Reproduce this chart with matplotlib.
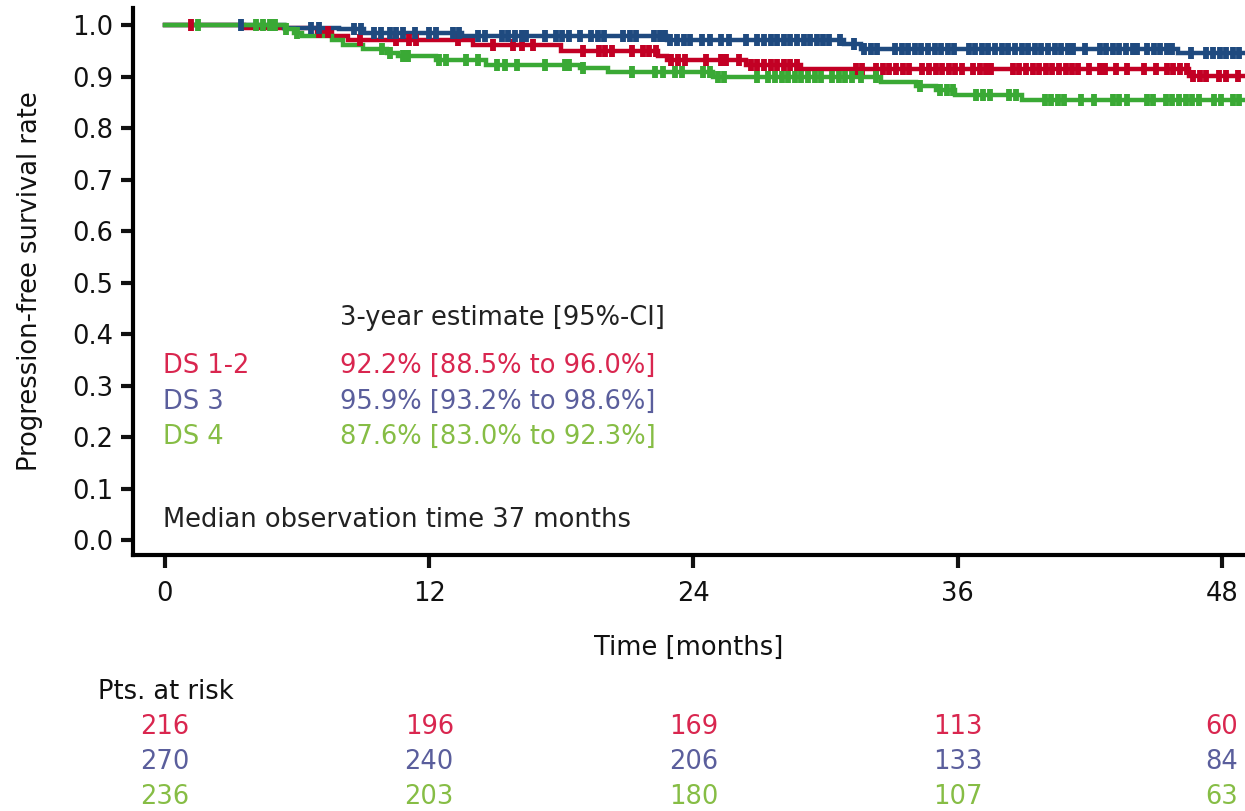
import numpy as np
import matplotlib.pyplot as plt
from matplotlib.transforms import blended_transform_factory

# step curves: time (months) of each drop and survival after it
red_t = [0, 3.6, 6.9, 7.6, 8.3, 14.0, 18.0, 22.4, 22.8, 26.4, 28.9, 46.5, 49.1]
red_s = [1.0, 0.995, 0.988, 0.979, 0.971, 0.963, 0.951, 0.940, 0.932, 0.924, 0.916, 0.902, 0.902]

blue_t = [0, 5.4, 7.9, 9.05, 13.5, 22.8, 30.85, 31.6, 46.0, 49.1]
blue_s = [1.0, 0.996, 0.993, 0.986, 0.979, 0.971, 0.965, 0.955, 0.947, 0.947]

green_t = [0, 5.45, 5.85, 6.2, 7.6, 8.1, 9.0, 10.1, 10.6, 12.3, 14.6, 18.85, 20.1,
           24.9, 32.5, 34.1, 35.0, 35.9, 38.9, 49.1]
green_s = [1.0, 0.993, 0.986, 0.979, 0.971, 0.963, 0.955, 0.947, 0.940, 0.932, 0.924,
           0.917, 0.909, 0.900, 0.890, 0.883, 0.874, 0.864, 0.855, 0.855]

# censoring marks (months)
red_cens = [1.2, 7.0, 7.4, 8.85, 10.5, 11.1, 11.4, 13.3, 14.9, 15.8, 16.2, 16.7, 19.0,
            19.7, 20.0, 20.3, 21.2, 21.7, 22.0, 22.3, 23.0, 23.3, 23.6, 24.55, 25.25,
            25.5, 26.05, 26.6, 26.9, 27.2, 27.5, 27.8, 28.1, 28.4, 28.7, 31.4, 31.65,
            32.3, 32.6, 32.9, 33.2, 33.5, 33.8, 34.4, 34.7, 35.0, 35.3, 35.6, 35.9,
            36.2, 36.7, 37.0, 37.3, 37.5, 38.5, 38.8, 39.1, 39.4, 39.7, 40.0, 40.3,
            40.6, 40.9, 41.2, 41.45, 41.95, 42.45, 42.7, 43.2, 43.7, 44.45, 45.0, 45.5,
            45.8, 46.1, 46.4, 46.7, 47.0, 47.3, 47.85, 48.2, 48.75]
blue_cens = [3.45, 6.65, 7.0, 8.6, 8.9, 9.5, 9.8, 10.2, 10.5, 10.8, 11.35, 12.0, 12.3,
             13.1, 13.35, 14.2, 14.55, 15.3, 15.6, 15.9, 16.2, 16.4, 17.25, 17.75, 18.05,
             18.35, 18.85, 19.35, 19.65, 19.95, 20.8, 21.1, 21.4, 22.2, 22.5, 22.7,
             22.95, 23.25, 23.55, 23.85, 24.4, 24.75, 25.25, 25.6, 26.4, 26.9, 27.2,
             27.5, 27.8, 28.1, 28.4, 28.7, 29.0, 29.3, 29.6, 29.9, 30.15, 30.65, 31.3,
             31.75, 32.05, 32.35, 33.15, 33.45, 33.75, 34.05, 34.35, 34.65, 34.95,
             35.25, 35.55, 35.85, 36.5, 36.8, 37.1, 37.4, 37.7, 38.0, 38.3, 38.6, 38.9,
             39.2, 39.5, 39.8, 40.1, 40.4, 40.7, 41.0, 41.25, 41.8, 42.45, 42.75, 43.05,
             43.35, 43.65, 43.95, 44.15, 44.6, 44.9, 45.2, 45.5, 45.75, 46.6, 47.3,
             47.6, 47.9, 48.2, 48.5, 48.8]
green_cens = [1.5, 4.15, 4.45, 4.75, 5.0, 5.5, 6.0, 9.85, 10.2, 10.8, 11.05, 12.45, 12.75,
              13.65, 14.2, 15.1, 15.45, 16.0, 17.25, 18.15, 18.35, 19.0, 21.2, 22.25,
              22.6, 23.15, 23.5, 24.45, 24.75, 25.1, 25.4, 26.9, 27.4, 27.7, 28.0, 28.3,
              28.6, 28.9, 29.2, 29.5, 29.8, 30.3, 30.6, 30.9, 31.2, 31.6, 32.3, 34.3,
              35.2, 35.5, 35.8, 36.85, 37.15, 37.45, 38.35, 38.65, 39.95, 40.25, 40.55,
              40.85, 41.6, 42.2, 43.05, 43.35, 43.7, 44.6, 44.85, 45.45, 45.75, 46.05,
              46.35, 46.65, 46.95, 47.65, 47.95, 48.5, 48.8]

groups = ['DS 1-2', 'DS 3', 'DS 4']
estimates = ['92.2% [88.5% to 96.0%]', '95.9% [93.2% to 98.6%]', '87.6% [83.0% to 92.3%]']
risk_times = [0, 12, 24, 36, 48]
risk_red = [216, 196, 169, 113, 60]
risk_blue = [270, 240, 206, 133, 84]
risk_green = [236, 203, 180, 107, 63]

RED, BLUE, GREEN = '#C20024', '#1F4A7F', '#3AA935'
RED_TXT, BLUE_TXT, GREEN_TXT = '#D9264F', '#5A5E9C', '#86BD45'
FS = 18.5


def surv_at(times, surv, c):
    idx = np.searchsorted(times, c, side='right') - 1
    return np.asarray(surv)[idx]


fig = plt.figure(figsize=(12.45, 8.11), dpi=100)
ax = fig.add_axes([133 / 1245, 1 - 555 / 811, 1112 / 1245, 547 / 811])

curves = [(red_t, red_s, red_cens, RED), (blue_t, blue_s, blue_cens, BLUE),
          (green_t, green_s, green_cens, GREEN)]
for t, s, c, col in curves:
    ax.step(t, s, where='post', color=col, lw=3.2, solid_joinstyle='miter')
for t, s, c, col in curves:
    ax.plot(c, surv_at(t, s, c), ls='none', marker='|', color=col, ms=8, mew=4.2)

ax.set_xlim(-1.453, 49.05)
ax.set_ylim(-0.029, 1.034)
ax.set_xticks(risk_times)
ax.set_yticks(np.round(np.arange(0, 1.01, 0.1), 1))
ax.set_yticklabels([f'{v:.1f}' for v in np.arange(0, 1.01, 0.1)])
for side in ['top', 'right']:
    ax.spines[side].set_visible(False)
for side in ['left', 'bottom']:
    ax.spines[side].set_linewidth(3)
ax.tick_params(axis='both', direction='out', length=9, width=3, labelsize=FS,
               colors='#111111')
ax.tick_params(axis='y', pad=5)
ax.tick_params(axis='x', pad=10)

ax.set_xlabel('Time [months]', fontsize=FS, color='#111111')
ax.xaxis.label.set_verticalalignment('center')
ax.xaxis.set_label_coords(0.5, (555 - 648) / 547)
ax.set_ylabel('Progression-free survival rate', fontsize=FS, color='#111111')
ax.yaxis.label.set_verticalalignment('center')
ax.yaxis.set_label_coords((30 - 133) / 1112, 0.5)

# estimate block inside the plot
ax.text(7.95, 0.432, '3-year estimate [95%-CI]', fontsize=FS, color='#222222', va='center')
for i, (g, e, col) in enumerate(zip(groups, estimates, [RED_TXT, BLUE_TXT, GREEN_TXT])):
    y = [0.338, 0.268, 0.200][i]
    ax.text(-0.09, y, g, fontsize=FS, color=col, va='center')
    ax.text(7.95, y, e, fontsize=FS, color=col, va='center')
ax.text(-0.09, 0.039, 'Median observation time 37 months', fontsize=FS,
        color='#222222', va='center')

# numbers at risk under the axis
tr = blended_transform_factory(ax.transData, fig.transFigure)
fig.text(98 / 1245, 1 - 692 / 811, 'Pts. at risk', fontsize=FS, color='#111111',
         va='center')
for row, col, ypx in [(risk_red, RED_TXT, 727), (risk_blue, BLUE_TXT, 762),
                      (risk_green, GREEN_TXT, 797)]:
    for x, n in zip(risk_times, row):
        ax.text(x, 1 - ypx / 811, str(n), transform=tr, fontsize=FS, color=col,
                ha='center', va='center', clip_on=False)

fig.savefig('out.png', dpi=100)
